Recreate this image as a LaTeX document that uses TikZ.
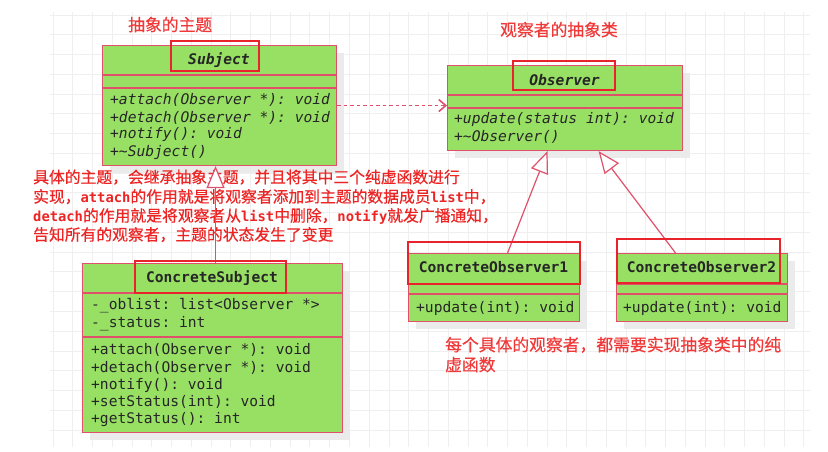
\documentclass[tikz,border=0pt]{standalone}
\usepackage{fontspec}
\setmonofont{DejaVu Sans Mono}
\newfontfamily\cjk[FakeBold=0.4]{Noto Sans CJK SC}
\usetikzlibrary{arrows.meta}
\definecolor{umlfill}{HTML}{98E064}
\definecolor{umlline}{HTML}{E0506A}
\definecolor{hilite}{HTML}{E8232B}
\definecolor{notered}{HTML}{EC2424}
\definecolor{labelred}{HTML}{F03A3A}
\definecolor{gridc}{HTML}{EFEFEF}
\definecolor{shadowgray}{HTML}{EBEBEB}
\newcommand\kw[1]{{\fontsize{13.8}{19}\selectfont\ttfamily\bfseries #1}}
\begin{document}
\begin{tikzpicture}[x=1pt,y=-1pt,
  umlbox/.style={draw=umlline, line width=1.1pt, fill=umlfill, inner sep=0pt, anchor=north west},
  divider/.style={draw=umlline, line width=1.1pt},
  hl/.style={draw=hilite, line width=2.8pt},
  umltxt/.style={inner sep=0pt, anchor=base west, font=\fontsize{14.6}{17}\selectfont\ttfamily, text=black!85},
  umlhead/.style={inner sep=0pt, anchor=base, font=\fontsize{14.6}{17}\selectfont\ttfamily\bfseries, text=black!85},
  caption/.style={inner sep=0pt, anchor=base west, font=\fontsize{16.8}{20}\selectfont\cjk, text=labelred},
  noteline/.style={inner sep=0pt, anchor=base west, font=\fontsize{15.8}{19}\selectfont\cjk, text=notered},
  inherit/.style={draw=umlline, line width=1.2pt, -{Triangle[length=22pt,width=18pt,fill=white]}},
  depend/.style={draw=umlline, line width=1.6pt, dash pattern=on 3.5pt off 3pt, -{Straight Barb[length=7pt,width=12pt]}}
]
\useasboundingbox (0,0) rectangle (828,452);
\fill[white] (0,0) rectangle (828,452);

% background grid
\foreach \i in {0,...,38} \draw[gridc, line width=0.8pt] ({53+19.76*\i},12) -- ({53+19.76*\i},447);
\foreach \j in {0,...,21} \draw[gridc, line width=0.8pt] (50,{15+19.76*\j}) -- (810,{15+19.76*\j});

% drop shadows
\fill[shadowgray] (110,53) rectangle (344,173);
\fill[shadowgray] (455,73) rectangle (690,158);
\fill[shadowgray] (90,271) rectangle (350,440);
\fill[shadowgray] (416,261) rectangle (587,329);
\fill[shadowgray] (624,261) rectangle (795,329);

% Subject
\node[umlbox, minimum width=234pt, minimum height=120pt] (subject) at (102,45) {};
\draw[divider] (102,75) -- (336,75);
\draw[divider] (102,88) -- (336,88);
\node[umlhead] (subjname) at (219,65) {\itshape Subject};
\node[umltxt] (s1) at (110,105) {\itshape +attach(Observer *): void};
\node[umltxt] (s2) at (110,122) {\itshape +detach(Observer *): void};
\node[umltxt] (s3) at (110,139) {\itshape +notify(): void};
\node[umltxt] (s4) at (110,157) {\itshape +\textasciitilde Subject()};

% Observer
\node[umlbox, minimum width=235pt, minimum height=85pt] (obs) at (447,65) {};
\draw[divider] (447,95) -- (682,95);
\draw[divider] (447,108) -- (682,108);
\node[umlhead] (obsname) at (564.5,85) {\itshape Observer};
\node[umltxt] (o1) at (454,124) {\itshape +update(status int): void};
\node[umltxt] (o2) at (454,142) {\itshape +\textasciitilde Observer()};

% ConcreteSubject
\node[umlbox, minimum width=260pt, minimum height=169pt] (csub) at (82,263) {};
\draw[divider] (82,293) -- (342,293);
\draw[divider] (82,337) -- (342,337);
\node[umlhead] (csubname) at (212,282) {ConcreteSubject};
\node[umltxt] (c1) at (91,309) {-\_oblist: list<Observer *>};
\node[umltxt] (c2) at (91,327) {-\_status: int};
\node[umltxt] (c3) at (91,354) {+attach(Observer *): void};
\node[umltxt] (c4) at (91,372) {+detach(Observer *): void};
\node[umltxt] (c5) at (91,389) {+notify(): void};
\node[umltxt] (c6) at (91,406) {+setStatus(int): void};
\node[umltxt] (c7) at (91,423) {+getStatus(): int};

% ConcreteObserver1
\node[umlbox, minimum width=171pt, minimum height=68pt] (cobs1) at (408,253) {};
\draw[divider] (408,284) -- (579,284);
\draw[divider] (408,294) -- (579,294);
\node[umlhead] (cobs1name) at (493.5,272) {ConcreteObserver1};
\node[umltxt] (u1) at (416,312) {+update(int): void};

% ConcreteObserver2
\node[umlbox, minimum width=171pt, minimum height=68pt] (cobs2) at (616,253) {};
\draw[divider] (616,284) -- (787,284);
\draw[divider] (616,294) -- (787,294);
\node[umlhead] (cobs2name) at (701.5,272) {ConcreteObserver2};
\node[umltxt] (u2) at (623,312) {+update(int): void};

% captions
\node[caption] (capsubj) at (128,31) {抽象的主题};
\node[caption] (capobs) at (500,36) {观察者的抽象类};
\node[caption] (capco1) at (445,351) {每个具体的观察者，都需要实现抽象类中的纯};
\node[caption] (capco2) at (445,371) {虚函数};

% note on ConcreteSubject
\node[noteline] (n1) at (33,183) {具体的主题，会继承抽象主题，并且将其中三个纯虚函数进行};
\node[noteline] (n2) at (33,202.5) {实现，\kw{attach}的作用就是将观察者添加到主题的数据成员\kw{list}中，};
\node[noteline] (n3) at (33,221.5) {\kw{detach}的作用就是将观察者从\kw{list}中删除，\kw{notify}就发广播通知，};
\node[noteline] (n4) at (33,240.5) {告知所有的观察者，主题的状态发生了变更};

% relations
\draw[depend] (subject.east) -- (subject.east -| obs.west);
\draw[inherit] ([xshift=3pt]csub.north) -- ([xshift=-4pt]subject.south);
\draw[inherit] ([xshift=13.5pt]cobs1.north) -- ([xshift=-17.5pt]obs.south);
\draw[inherit] ([xshift=-26.5pt]cobs2.north) -- ([xshift=33.5pt]obs.south);

% highlight frames around class names
\draw[hl] (171,41) rectangle (259,71);
\draw[hl] (513,61) rectangle (615,90);
\draw[hl] (135,261) rectangle (286,293);
\draw[hl] (408,242) rectangle (580,284);
\draw[hl] (617,239) rectangle (780,283);
\end{tikzpicture}
\end{document}
